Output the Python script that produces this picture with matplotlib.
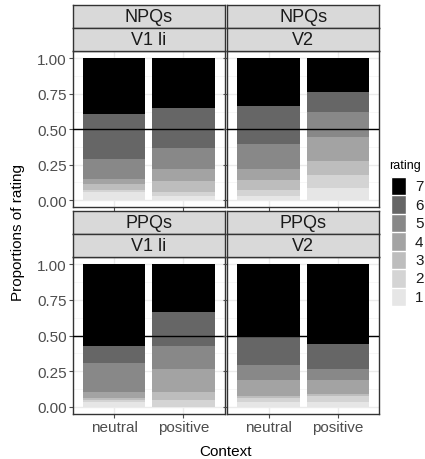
import matplotlib
matplotlib.use("Agg")
import matplotlib.pyplot as plt
import numpy as np

plt.rcParams['font.family'] = ['Liberation Sans', 'DejaVu Sans']

ratings = ['1', '2', '3', '4', '5', '6', '7']
contexts = ['neutral', 'positive']
row_labels = ['NPQs', 'PPQs']
col_labels = ['V1 li', 'V2']

# proportions for ratings 1..7 per context
npq_v1_neutral = [0.058, 0.016, 0.042, 0.035, 0.140, 0.315, 0.394]
npq_v1_positive = [0.033, 0.026, 0.075, 0.089, 0.147, 0.280, 0.350]
npq_v2_neutral = [0.033, 0.042, 0.070, 0.077, 0.175, 0.266, 0.337]
npq_v2_positive = [0.089, 0.091, 0.098, 0.168, 0.175, 0.140, 0.239]
ppq_v1_neutral = [0.035, 0.014, 0.014, 0.042, 0.201, 0.119, 0.575]
ppq_v1_positive = [0.000, 0.047, 0.058, 0.159, 0.161, 0.238, 0.337]
ppq_v2_neutral = [0.033, 0.028, 0.014, 0.112, 0.105, 0.196, 0.512]
ppq_v2_positive = [0.033, 0.042, 0.014, 0.098, 0.077, 0.175, 0.561]

panels = {
    (0, 0): [npq_v1_neutral, npq_v1_positive],
    (0, 1): [npq_v2_neutral, npq_v2_positive],
    (1, 0): [ppq_v1_neutral, ppq_v1_positive],
    (1, 1): [ppq_v2_neutral, ppq_v2_positive],
}

colors = ['#e6e6e6', '#d4d4d4', '#bdbdbd', '#a3a3a3', '#888888', '#666666', '#000000']

W, H = 425, 460
fig = plt.figure(figsize=(W / 100, H / 100), dpi=100)

def rect(x0, y0, x1, y1):
    return [x0 / W, 1 - y1 / H, (x1 - x0) / W, (y1 - y0) / H]

col_x = [(72.5, 225.0), (227.0, 379.5)]
row_y = [(52.3, 208.3), (258.3, 414.7)]
strip_y = [((6.0, 29.0), (29.0, 52.3)), ((212.3, 235.0), (235.0, 258.3))]

grey20 = '#333333'
tick_col = '#4d4d4d'

for (r, c), data in panels.items():
    x0, x1 = col_x[c]
    y0, y1 = row_y[r]
    ax = fig.add_axes(rect(x0, y0, x1, y1))
    ax.set_facecolor('white')
    xs = np.arange(len(contexts))
    for i, vals in enumerate(data):
        bottom = 0.0
        for k, v in enumerate(vals):
            ax.bar(xs[i], v, bottom=bottom, width=0.9, color=colors[k], linewidth=0, zorder=2)
            bottom += v
    ax.axhline(0.5, color='black', linewidth=1.0, zorder=3)
    ax.set_xlim(-0.6, 1.6)
    ax.set_ylim(-0.05, 1.05)
    ax.set_yticks([0, 0.25, 0.5, 0.75, 1.0])
    ax.set_yticks([0.125, 0.375, 0.625, 0.875], minor=True)
    ax.set_xticks(xs)
    ax.grid(True, which='major', color='#ebebeb', linewidth=1.0, zorder=0)
    ax.grid(True, which='minor', axis='y', color='#f5f5f5', linewidth=0.6, zorder=0)
    ax.set_axisbelow(True)
    for s in ax.spines.values():
        s.set_color(grey20)
        s.set_linewidth(1.0)
    ax.tick_params(which='major', length=2.75, width=0.8, color=tick_col,
                   labelsize=11, labelcolor='#4d4d4d', pad=1.5)
    ax.tick_params(which='minor', length=0)
    if c == 0:
        ax.set_yticklabels(['0.00', '0.25', '0.50', '0.75', '1.00'])
    else:
        ax.set_yticklabels([])
    if r == 1:
        ax.set_xticklabels(contexts)
    else:
        ax.set_xticklabels([])
    # strips
    for j, lab in enumerate([row_labels[r], col_labels[c]]):
        sy0, sy1 = strip_y[r][j]
        sax = fig.add_axes(rect(x0, sy0, x1, sy1))
        sax.set_facecolor('#d9d9d9')
        sax.set_xticks([])
        sax.set_yticks([])
        for s in sax.spines.values():
            s.set_color(grey20)
            s.set_linewidth(1.0)
        sax.text(0.5, 0.5, lab, ha='center', va='center', fontsize=13,
                 color='#1a1a1a', transform=sax.transAxes)

fig.text(226 / W, 1 - 452 / H, 'Context', ha='center', va='center', fontsize=11)
fig.text(18 / W, 1 - 233 / H, 'Proportions of rating', ha='center', va='center',
         rotation=90, fontsize=11)

# legend
fig.text(389 / W, 1 - 166 / H, 'rating', ha='left', va='center', fontsize=9)
key_top = 178.0
key_h = 18.45
for idx, k in enumerate(range(6, -1, -1)):
    ky0 = key_top + idx * key_h
    kax = fig.add_axes(rect(390.5, ky0, 406.0, ky0 + key_h))
    kax.set_facecolor(colors[k])
    kax.set_xticks([])
    kax.set_yticks([])
    for s in kax.spines.values():
        s.set_visible(False)
    kax.add_patch(plt.Rectangle((0, 0), 1, 1, facecolor=colors[k], edgecolor='white',
                                linewidth=1.0, transform=kax.transAxes))
    fig.text(415 / W, 1 - (ky0 + key_h / 2) / H, ratings[k], ha='left', va='center',
             fontsize=11, color='#1a1a1a')

fig.savefig('out.png', dpi=100)
